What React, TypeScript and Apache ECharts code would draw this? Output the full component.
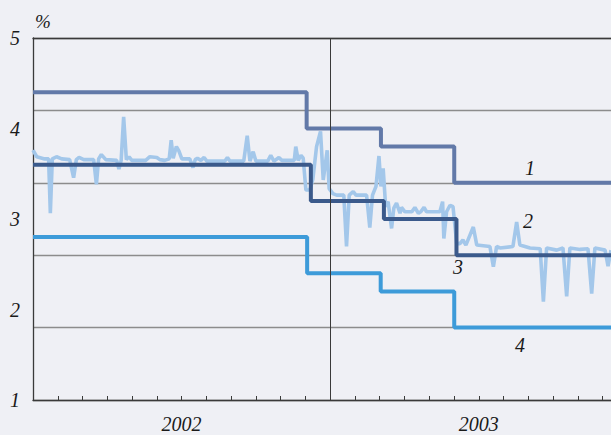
import React, { useEffect, useRef } from "react";
import * as echarts from "echarts";

// x positions are in months since January 2002 (0 = 1 Jan 2002, 12 = 1 Jan 2003)
const yearLabels = ["2002", "2003"];
const yTickLabels = ["1", "2", "3", "4", "5"];
const visibleMonths = 23.34; // the picture is cut at mid-December 2003

// 1: marginal lending facility
const lendingChanges = [0, 11.05, 14.05, 17.01, 24];
const lendingRates = [4.25, 3.75, 3.5, 3.0, 3.0];
// 3: main refinancing rate
const refiChanges = [0, 11.22, 14.17, 17.1, 24];
const refiRates = [3.25, 2.75, 2.5, 2.0, 2.0];
// 4: deposit facility
const depositChanges = [0, 11.07, 14.04, 17.01, 24];
const depositRates = [2.25, 1.75, 1.5, 1.0, 1.0];

// 2: overnight rate
const eoniaMonths = [
  0.0, 0.15, 0.47, 0.63, 0.7, 0.78, 0.95, 1.16, 1.48, 1.64, 1.75, 1.86, 2.05, 2.45, 2.56, 2.65, 2.76, 2.94,
  3.38, 3.47, 3.56, 3.66, 3.77, 3.88, 3.99, 4.55, 4.72, 5.0, 5.12, 5.32, 5.5, 5.58, 5.66, 5.79, 5.89, 6.01,
  6.33, 6.46, 6.55, 6.64, 6.78, 6.91, 7.02, 7.75, 7.85, 7.95, 8.51, 8.65, 8.76, 8.89, 9.0, 9.48, 9.6, 9.73,
  9.93, 10.05, 10.55, 10.61, 10.71, 10.82, 10.91, 11.02, 11.18, 11.3, 11.45, 11.61, 11.72, 11.88, 11.96,
  12.11, 12.26, 12.55, 12.66, 12.77, 12.93, 13.04, 13.47, 13.6, 13.71, 13.85, 13.97, 14.05, 14.14, 14.24,
  14.34, 14.48, 14.57, 14.68, 14.82, 14.88, 15.02, 15.3, 15.42, 15.56, 15.66, 15.79, 15.89, 16.43, 16.54,
  16.59, 16.7, 16.84, 16.96, 17.11, 17.24, 17.36, 17.48, 17.78, 17.92, 18.45, 18.59, 18.72, 18.86, 19.38,
  19.53, 19.66, 20.07, 20.48, 20.61, 20.74, 21.15, 21.4, 21.55, 21.68, 22.09, 22.41, 22.56, 22.69, 23.1,
  23.22, 23.34,
];
const eoniaValues = [
  3.45, 3.36, 3.33, 3.33, 2.58, 3.33, 3.36, 3.33, 3.32, 3.07, 3.32, 3.35, 3.32, 3.32, 2.98, 3.33, 3.39, 3.32,
  3.31, 3.19, 3.31, 3.91, 3.32, 3.36, 3.31, 3.31, 3.36, 3.35, 3.32, 3.31, 3.33, 3.59, 3.34, 3.5, 3.44, 3.33,
  3.33, 3.21, 3.32, 3.34, 3.31, 3.35, 3.3, 3.3, 3.35, 3.3, 3.3, 3.65, 3.3, 3.43, 3.3, 3.3, 3.38, 3.3,
  3.35, 3.31, 3.31, 3.5, 3.31, 3.38, 3.34, 2.9, 2.9, 3.05, 3.5, 3.71, 3.04, 3.45, 2.92,
  2.85, 2.83, 2.83, 2.12, 2.83, 2.88, 2.83, 2.83, 2.38, 2.83, 2.95, 3.37, 2.95, 3.2, 2.67,
  2.74, 2.37, 2.65, 2.72, 2.58, 2.66, 2.6, 2.6, 2.66, 2.58, 2.6, 2.66, 2.6, 2.6, 2.74,
  2.23, 2.6, 2.69, 2.67, 2.16, 2.16, 2.21, 2.14, 2.39, 2.14, 2.12, 1.84, 2.12, 2.1, 2.12,
  2.46, 2.14, 2.1, 2.09, 1.36, 2.1, 2.07, 2.1, 1.43, 2.1, 2.08, 2.09, 1.47, 2.1, 2.07,
  1.85, 2.07,
];

const seriesLabels = [
  { text: "1", x: 530, y: 168 },
  { text: "2", x: 528, y: 221 },
  { text: "3", x: 458, y: 267 },
  { text: "4", x: 520, y: 345 },
];

const FONT = "'Liberation Serif', 'Times New Roman', serif";

function stepData(xs: number[], ys: number[]) {
  return xs.map((x, i) => [x, ys[i]]);
}

export default function App() {
  const ref = useRef<HTMLDivElement>(null);
  useEffect(() => {
    if (!ref.current) return;
    const chart = echarts.init(ref.current, null, { renderer: "svg" });
    const textStyle = { fontFamily: FONT, fontStyle: "italic", fontSize: 20, color: "#1a1a1a" };
    chart.setOption({
      animation: false,
      backgroundColor: "#eff0f5",
      grid: { left: 33, top: 38, right: 0, height: 362, containLabel: false },
      xAxis: [
        {
          type: "value",
          min: 0,
          max: visibleMonths,
          interval: 1,
          axisLine: { show: true, lineStyle: { color: "#3a3a3a", width: 1.3 } },
          axisTick: { show: true, inside: true, length: 4, lineStyle: { color: "#3a3a3a", width: 1 } },
          splitLine: { show: false },
          axisLabel: {
            show: true,
            margin: 14,
            showMaxLabel: false,
            ...textStyle,
            formatter: (v: number) => (v === 6 ? yearLabels[0] : v === 18 ? yearLabels[1] : ""),
          },
        },
        {
          type: "value",
          position: "top",
          min: 0,
          max: visibleMonths,
          axisLine: { show: true, lineStyle: { color: "#3a3a3a", width: 1.3 } },
          axisTick: { show: false },
          axisLabel: { show: false },
          splitLine: { show: false },
        },
      ],
      yAxis: [
        {
          type: "value",
          min: 0,
          max: 5,
          interval: 1,
          axisLine: { show: true, lineStyle: { color: "#3a3a3a", width: 1.3 } },
          axisTick: { show: false },
          axisLabel: { show: false },
          splitLine: { show: true, lineStyle: { color: "#8c8c8c", width: 1.3 } },
        },
        {
          type: "value",
          min: 1,
          max: 5,
          interval: 1,
          position: "left",
          axisLine: { show: false },
          axisTick: { show: false },
          splitLine: { show: false },
          axisLabel: {
            show: true,
            margin: 13,
            ...textStyle,
            formatter: (v: number) => yTickLabels[v - 1] ?? "",
          },
        },
      ],
      series: [
        {
          type: "line",
          data: eoniaMonths.map((m, i) => [m, eoniaValues[i]]),
          showSymbol: false,
          lineStyle: { color: "#a3c7ea", width: 3.6 },
          markLine: {
            silent: true,
            symbol: "none",
            label: { show: false },
            lineStyle: { color: "#3a3a3a", width: 1, type: "solid" },
            data: [{ xAxis: 12 }],
          },
          z: 1,
        },
        {
          type: "line",
          step: "end",
          data: stepData(lendingChanges, lendingRates),
          showSymbol: false,
          lineStyle: { color: "#6279a8", width: 4 },
          z: 3,
        },
        {
          type: "line",
          step: "end",
          data: stepData(refiChanges, refiRates),
          showSymbol: false,
          lineStyle: { color: "#3b5a8b", width: 4 },
          z: 3,
        },
        {
          type: "line",
          step: "end",
          data: stepData(depositChanges, depositRates),
          showSymbol: false,
          lineStyle: { color: "#3d9bd9", width: 4 },
          z: 3,
        },
      ],
      graphic: [
        {
          type: "text",
          x: 43,
          y: 21,
          style: { text: "%", fontFamily: FONT, fontStyle: "italic", fontSize: 19, fill: "#1a1a1a", align: "center", verticalAlign: "middle" },
        },
        ...seriesLabels.map((l) => ({
          type: "text",
          x: l.x,
          y: l.y,
          z: 10,
          style: { text: l.text, fontFamily: FONT, fontStyle: "italic", fontSize: 20, fill: "#1a1a1a", align: "center", verticalAlign: "middle" },
        })),
      ],
    });
    return () => chart.dispose();
  }, []);
  return (
    <div
      ref={ref}
      style={{ position: "fixed", left: 0, top: 0, width: 611, height: 435, overflow: "hidden" }}
    />
  );
}
